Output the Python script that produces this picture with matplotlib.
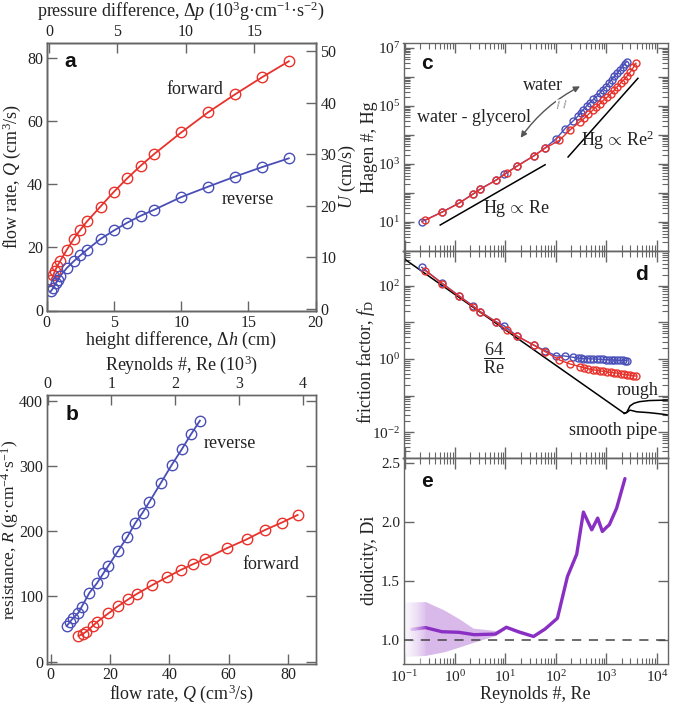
import numpy as np
import matplotlib
matplotlib.use("Agg")
import matplotlib.pyplot as plt
from matplotlib.ticker import LogLocator, NullFormatter, FuncFormatter, MultipleLocator

plt.rcParams['font.family'] = ['Liberation Serif', 'DejaVu Serif']
plt.rcParams['mathtext.fontset'] = 'custom'
plt.rcParams['mathtext.rm'] = 'Liberation Serif'
plt.rcParams['mathtext.it'] = 'Liberation Serif:italic'
plt.rcParams['mathtext.bf'] = 'Liberation Serif:bold'
plt.rcParams['axes.edgecolor'] = '#666666'
plt.rcParams['axes.linewidth'] = 1.0
plt.rcParams['xtick.color'] = '#666666'
plt.rcParams['ytick.color'] = '#666666'
plt.rcParams['xtick.labelcolor'] = '#222222'
plt.rcParams['ytick.labelcolor'] = '#222222'
plt.rcParams['xtick.labelsize'] = 11.5
plt.rcParams['ytick.labelsize'] = 11.5
plt.rcParams['axes.labelsize'] = 13
plt.rcParams['axes.labelcolor'] = '#222222'

RED = '#e8322b'
BLUE = '#4a4fb8'
PURPLE = '#8a2fc4'
LAVENDER = '#d9b9ea'

# ---- panel a: flow rate vs height difference ----
dh_fwd = [0.35, 0.5, 0.6, 0.8, 1.0, 1.5, 2, 2.5, 3, 4, 5, 6, 7, 8, 10, 12, 14, 16, 18]
Q_fwd = [9.8, 11.2, 12.5, 14.2, 15.7, 19.3, 22.7, 25.6, 28.3, 33.0, 37.7, 42.0, 46.0, 49.7, 56.5, 62.9, 68.6, 74.0, 79.1]
dh_rev = [0.3, 0.5, 0.7, 0.87, 1.0, 1.5, 2, 2.5, 3, 4, 5, 6, 7, 8, 10, 12, 14, 16, 18]
Q_rev = [6.1, 7.2, 8.8, 9.8, 10.9, 13.5, 15.6, 17.5, 19.3, 22.7, 25.4, 27.9, 30.1, 32.0, 36.0, 39.3, 42.5, 45.5, 48.3]

# ---- panel b: resistance vs flow rate ----
Qb_rev = [5.45, 6.6, 7.5, 9.4, 10.5, 13.1, 15.6, 17.8, 19.5, 22.8, 25.9, 28.5, 31.0, 33.2, 37.2, 40.8, 44.2, 47.3, 50.3]
R_rev = [54.8, 61.4, 66.5, 75.2, 84.4, 105.8, 120.2, 135.6, 147.2, 170.2, 191.7, 212.3, 228.5, 244.5, 274.5, 301.7, 325.7, 348.8, 369.6]
Qb_fwd = [9.4, 10.8, 12.0, 14.2, 15.8, 19.5, 22.8, 26.2, 29.0, 34.3, 39.1, 43.8, 47.9, 52.0, 59.3, 66.1, 72.2, 77.8, 83.2]
R_fwd = [39.4, 42.5, 46.0, 54.8, 61.4, 74.2, 85.4, 95.7, 103.8, 117.6, 129.4, 140.6, 149.4, 157.5, 173.9, 187.7, 202.0, 213.2, 225.0]

# ---- panels c, d: Hagen number and friction factor vs Reynolds number ----
Re_rev = [0.22, 0.56, 1.2, 2.3, 3.2, 6.5, 9.5, 17, 36, 61, 101,
          148, 222, 279, 310, 350, 407, 474, 552, 642, 747, 843, 981, 1109, 1271, 1436, 1644, 1857, 2096, 2330, 2514]
Hg_rev = [10.3, 22.4, 45, 94, 139, 280, 447, 857, 1870, 3580, 7400,
          1.58e4, 3.1e4, 4.6e4, 5.9e4, 7.5e4, 1.0e5, 1.3e5, 1.68e5, 2.1e5, 2.8e5, 3.6e5, 4.6e5, 6.2e5, 8.0e5,
          1.04e6, 1.35e6, 1.75e6, 2.27e6, 2.87e6, 3.36e6]
fD_rev = [320, 117, 53.7, 28, 19.6, 10.5, 8.0, 4.25, 2.41, 1.69, 1.21,
          1.21, 1.11, 1.06, 1.04, 1.03, 1.02, 1.01, 1.0, 0.99, 0.98, 0.97, 0.96, 0.95, 0.94, 0.93, 0.92, 0.92,
          0.91, 0.90, 0.90]
Re_fwd = [0.26, 0.56, 1.2, 2.3, 3.2, 6.5, 10.5, 17, 36, 61, 117,
          191, 300, 361, 439, 535, 622, 747, 869, 1042, 1213, 1412, 1644, 1914, 2228, 2594, 2927, 3407, 3846]
Hg_fwd = [11.7, 22, 44, 92, 136, 275, 480, 840, 1870, 3500, 6500,
          1.5e4, 2.87e4, 3.7e4, 5.1e4, 7.1e4, 9.3e4, 1.2e5, 1.56e5, 2.0e5, 2.6e5, 3.4e5, 4.6e5, 6.2e5, 8.0e5,
          1.1e6, 1.42e6, 2.1e6, 2.95e6]
fD_fwd = [259, 115, 52, 27, 19, 10.2, 6.2, 4.2, 2.41, 1.59, 0.94,
          0.73, 0.62, 0.57, 0.54, 0.51, 0.49, 0.47, 0.46, 0.44, 0.43, 0.42, 0.41, 0.39, 0.38, 0.37, 0.36,
          0.35, 0.34]

# guide lines in c
lin_Re = [0.51, 61]
lin_Hg = [7.9, 940]
quad_Re = [174, 4200]
quad_Hg = [1740, 8.9e5]

# reference friction curves in d
lam_Re = [0.0955, 2260]
lam_f = [563, 0.0327]
rough_Re = [2260, 2520, 2930, 3510, 4500, 7100, 20700]
rough_f = [0.0327, 0.0344, 0.052, 0.0615, 0.068, 0.073, 0.076]
smooth_Re = [2260, 2520, 2930, 3980, 7100, 13000, 20700]
smooth_f = [0.0327, 0.0344, 0.040, 0.036, 0.034, 0.031, 0.028]

# ---- panel e: diodicity ----
Re_di = [0.14, 0.26, 0.55, 1.2, 2.4, 6.3, 10.4, 18, 36, 61, 107, 169, 258, 350, 512, 672, 831, 1012, 1143, 1596, 2330]
Di = [1.09, 1.105, 1.07, 1.065, 1.045, 1.05, 1.108, 1.07, 1.03, 1.093, 1.184, 1.537, 1.726, 2.082, 1.932,
      2.031, 1.918, 1.955, 1.975, 2.116, 2.365]
Re_band = [0.0955, 0.26, 0.6, 1.2, 2.3, 6.5, 10.4, 18, 36]
Di_hi = [1.32, 1.325, 1.255, 1.18, 1.10, 1.08, 1.12, 1.085, 1.04]
Di_lo = [0.86, 0.87, 0.90, 0.94, 0.98, 1.04, 1.095, 1.055, 1.02]

W, H = 673, 704
fig = plt.figure(figsize=(W / 100, H / 100), dpi=100)


def box(l, t, r, b):
    return [l / W, 1 - b / H, (r - l) / W, (b - t) / H]


def circ(ax, x, y, c, ms, lw):
    ax.plot(x, y, '-', color=c, lw=lw, marker='o', ms=ms, mfc='none', mec=c, mew=1.0)


def letter(ax, s, x, y):
    ax.text(x, y, s, transform=ax.transAxes, fontsize=15, fontweight='bold',
            family=['Liberation Sans', 'DejaVu Sans'], ha='center', va='center', color='#111111')


def note(ax, s, x, y, **kw):
    ax.text(x, y, s, transform=ax.transAxes, fontsize=13, ha='center', va='center', color='#222222', **kw)


def ylab(ax, s, x, y=0.5, **kw):
    ax.set_ylabel(s, **kw)
    ax.yaxis.label.set_va('center')
    ax.yaxis.set_label_coords(x, y)


def xlab(ax, s, y, x=0.5):
    ax.set_xlabel(s)
    ax.xaxis.label.set_va('center')
    ax.xaxis.set_label_coords(x, y)


tk = dict(direction='in', length=7, width=1)

# panel a
ax_a = fig.add_axes(box(46.7, 42.7, 315.7, 310.5))
circ(ax_a, dh_fwd, Q_fwd, RED, 7.5, 1.3)
circ(ax_a, dh_rev, Q_rev, BLUE, 7.5, 1.3)
ax_a.set_xlim(0, 20)
ax_a.set_ylim(0, 85)
ax_a.xaxis.set_major_locator(MultipleLocator(5))
ax_a.yaxis.set_major_locator(MultipleLocator(20))
ax_a.tick_params(**tk)
ax_a.tick_params(axis='y', pad=2.5)
xlab(ax_a, 'height difference, Δ$h$ (cm)', -0.112)
ylab(ax_a, 'flow rate, $Q$ (cm$^3$/s)', -0.13)
note(ax_a, 'forward', 0.551, 0.826)
note(ax_a, 'reverse', 0.749, 0.415)
letter(ax_a, 'a', 0.089, 0.929)
ax_u = ax_a.twinx()
ax_u.set_ylim(-0.3, 51.7)
ax_u.yaxis.set_major_locator(MultipleLocator(10))
ax_u.tick_params(**tk)
ylab(ax_u, '$U$ (cm/s)', 1.117)
ax_p = ax_a.twiny()
ax_p.set_xlim(-0.17, 19.5)
ax_p.set_xticks([0, 5, 10, 15])
ax_p.tick_params(pad=2, **tk)
xlab(ax_p, 'pressure difference, Δ$p$ (10$^3$g·cm$^{-1}$·s$^{-2}$)', 1.12)

# panel b
ax_b = fig.add_axes(box(46.7, 395, 315.7, 664.3))
circ(ax_b, Qb_rev, R_rev, BLUE, 7.5, 1.3)
circ(ax_b, Qb_fwd, R_fwd, RED, 7.5, 1.3)
ax_b.set_xlim(-1.3, 89.3)
ax_b.set_ylim(-4, 409)
ax_b.xaxis.set_major_locator(MultipleLocator(20))
ax_b.yaxis.set_major_locator(MultipleLocator(100))
ax_b.tick_params(right=True, **tk)
ax_b.tick_params(axis='x', pad=2)
ax_b.tick_params(axis='y', pad=2.5)
xlab(ax_b, 'flow rate, $Q$ (cm$^3$/s)', -0.108)
ylab(ax_b, 'resistance, $R$ (g·cm$^{-4}$·s$^{-1}$)', -0.137, fontsize=12.5)
note(ax_b, 'reverse', 0.681, 0.82)
note(ax_b, 'forward', 0.832, 0.369)
letter(ax_b, 'b', 0.093, 0.926)
ax_re = ax_b.twiny()
ax_re.set_xlim(-0.015, 4.2)
ax_re.set_xticks([0, 1, 2, 3, 4])
ax_re.tick_params(pad=2, **tk)
xlab(ax_re, 'Reynolds #, Re (10$^3$)', 1.112)

# right column
ax_c = fig.add_axes(box(403.5, 42.7, 668, 250.7))
ax_d = fig.add_axes(box(403.5, 250.7, 668, 457.7), sharex=ax_c)
ax_e = fig.add_axes(box(403.5, 457.7, 668, 664), sharex=ax_c)

for ax in (ax_c, ax_d, ax_e):
    ax.set_xscale('log')

# panel c
circ(ax_c, Re_rev, Hg_rev, BLUE, 5, 1.0)
circ(ax_c, Re_fwd, Hg_fwd, RED, 5, 1.0)
ax_c.plot(lin_Re, lin_Hg, color='black', lw=1.1)
ax_c.plot(quad_Re, quad_Hg, color='black', lw=1.1)
ax_c.set_yscale('log')
ax_c.set_ylim(1.03, 1.5e7)
ylab(ax_c, 'Hagen #, Hg', -0.128)
ax_c.annotate('', xy=(20, 8000), xytext=(300, 4.7e5),
              arrowprops=dict(arrowstyle='<|-|>', color='#555555', lw=1.0, shrinkA=0, shrinkB=0,
                              connectionstyle='arc3,rad=0.12', mutation_scale=9))
ax_c.text(128, 1.05e5, '/ /', fontsize=9, color='#444444', ha='center', va='center', rotation=5,
          bbox=dict(facecolor='white', edgecolor='none', pad=0.0))
note(ax_c, 'water', 0.527, 0.792)
note(ax_c, 'water - glycerol', 0.267, 0.641)
note(ax_c, 'Hg$\\,\\propto\\,$Re', 0.429, 0.205)
note(ax_c, 'Hg$\\,\\propto\\,$Re$^2$', 0.811, 0.532)
letter(ax_c, 'c', 0.089, 0.901)

# panel d
ax_d.plot(lam_Re, lam_f, color='black', lw=1.1)
ax_d.plot(rough_Re, rough_f, color='black', lw=1.1)
ax_d.plot(smooth_Re, smooth_f, color='black', lw=1.1)
circ(ax_d, Re_rev, fD_rev, BLUE, 5, 1.0)
circ(ax_d, Re_fwd, fD_fwd, RED, 5, 1.0)
ax_d.set_yscale('log')
ax_d.set_ylim(2.0e-3, 912)
ylab(ax_d, 'friction factor, $f_\\mathrm{D}$', -0.14, 0.46)
note(ax_d, '$\\dfrac{64}{\\mathrm{Re}}$', 0.342, 0.48)
note(ax_d, 'rough', 0.885, 0.327)
note(ax_d, 'smooth pipe', 0.793, 0.130)
letter(ax_d, 'd', 0.901, 0.883)

# panel e
ax_e.fill_between(Re_band, Di_lo, Di_hi, color=LAVENDER, lw=0, zorder=1)
ax_e.plot(Re_di, Di, color=PURPLE, lw=2.4, zorder=2, solid_capstyle='round')
fade = np.ones((2, 64, 4))
fade[..., 3] = np.linspace(0.9, 0.0, 64)
ax_e.imshow(fade, extent=[0.0955, 0.27, 0.8, 1.45], aspect='auto', zorder=2.2, interpolation='bilinear')
ax_e.axhline(1.0, color='#444444', lw=1.1, ls=(0, (6, 5)), zorder=3)
ax_e.set_ylim(0.797, 2.542)
ax_e.yaxis.set_major_locator(MultipleLocator(0.5))
ax_e.yaxis.set_major_formatter(FuncFormatter(lambda v, p: f'{v:.1f}'))
ylab(ax_e, 'diodicity, Di', -0.13)
xlab(ax_e, 'Reynolds #, Re', -0.15)
letter(ax_e, 'e', 0.089, 0.884)
ax_e.set_xlim(0.0955, 16600)

# shared log x ticks
for ax in (ax_c, ax_d, ax_e):
    ax.xaxis.set_major_locator(LogLocator(base=10, numticks=20))
    ax.xaxis.set_minor_locator(LogLocator(base=10, subs=np.arange(2, 10), numticks=20))
    ax.xaxis.set_minor_formatter(NullFormatter())
for ax in (ax_c, ax_d):
    ax.yaxis.set_major_locator(LogLocator(base=10, numticks=20))
    ax.yaxis.set_minor_locator(LogLocator(base=10, subs=np.arange(2, 10), numticks=20))
    ax.yaxis.set_minor_formatter(NullFormatter())

ax_c.yaxis.set_major_formatter(FuncFormatter(
    lambda v, p: f'$10^{{{int(round(np.log10(v)))}}}$' if int(round(np.log10(v))) % 2 == 1 else ''))
ax_d.yaxis.set_major_formatter(FuncFormatter(
    lambda v, p: f'$10^{{{int(round(np.log10(v)))}}}$' if int(round(np.log10(v))) % 2 == 0 else ''))

for ax in (ax_c, ax_d, ax_e):
    ax.tick_params(axis='y', which='major', direction='in', length=7, width=1, left=True, right=True,
                   pad=2.5, labelsize=11)
    ax.tick_params(axis='y', which='minor', direction='in', length=4.5, width=0.8, left=True, right=True)

ax_c.tick_params(axis='x', which='major', top=True, bottom=False, labelbottom=False, direction='in', length=7, width=1)
ax_c.tick_params(axis='x', which='minor', top=True, bottom=False, direction='in', length=4, width=0.8)
ax_d.tick_params(axis='x', which='both', top=False, bottom=False, labelbottom=False)
ax_e.tick_params(axis='x', which='major', top=False, bottom=True, direction='in', length=8, width=1, labelsize=11)
ax_e.tick_params(axis='x', which='minor', top=False, bottom=True, direction='in', length=4, width=0.8)

# ticks that cross the c/d and d/e borders
for ax in (ax_d, ax_e):
    sec = ax.secondary_xaxis('top')
    sec.xaxis.set_major_locator(LogLocator(base=10, numticks=20))
    sec.xaxis.set_minor_locator(LogLocator(base=10, subs=np.arange(2, 10), numticks=20))
    sec.xaxis.set_minor_formatter(NullFormatter())
    sec.tick_params(which='major', direction='inout', length=16, width=1, labeltop=False)
    sec.tick_params(which='minor', direction='inout', length=8, width=0.8)

fig.savefig('out.png', dpi=100)
